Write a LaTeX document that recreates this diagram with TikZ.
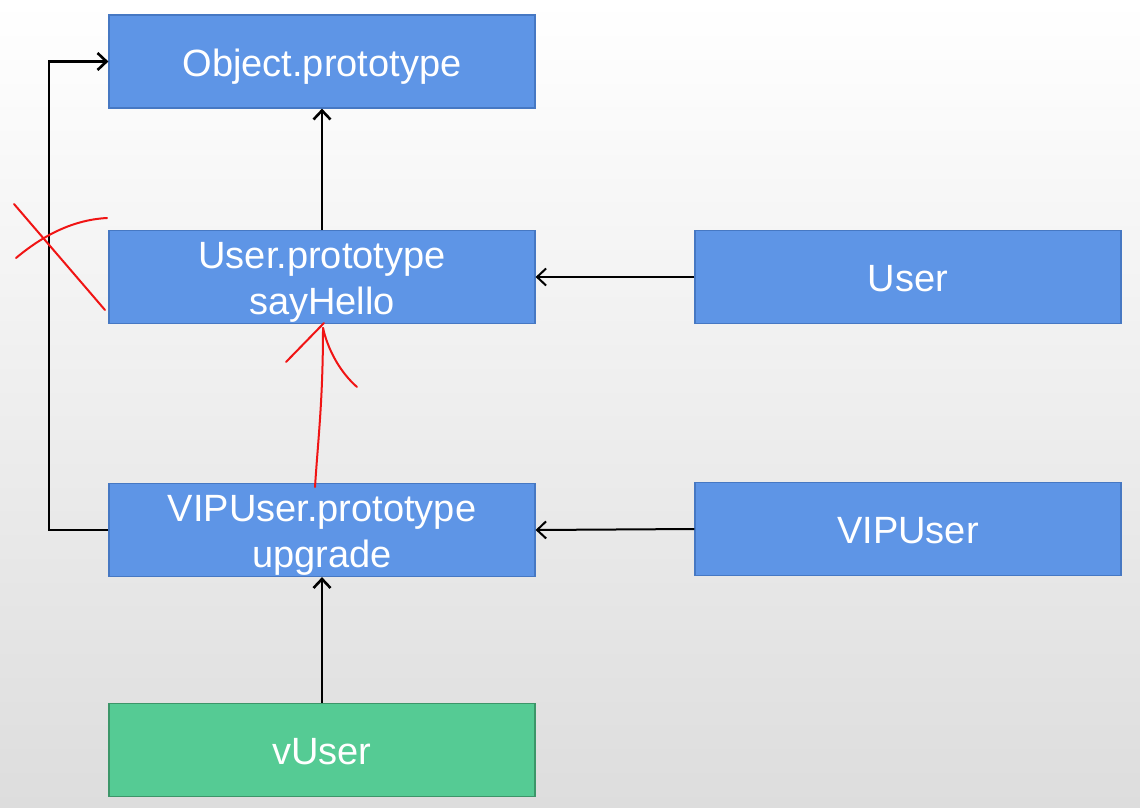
\documentclass[tikz,border=0pt]{standalone}
\usepackage{fontspec}
\setmainfont{Liberation Sans}
\usetikzlibrary{arrows.meta,positioning}
\definecolor{boxblue}{RGB}{94,149,230}
\definecolor{boxblueline}{RGB}{70,120,195}
\definecolor{boxgreen}{RGB}{85,203,148}
\definecolor{boxgreenline}{RGB}{60,150,105}
\definecolor{bgbottom}{RGB}{221,221,221}
\definecolor{inkred}{RGB}{240,20,20}
\tikzset{
  bluebox/.style={draw=boxblueline, fill=boxblue, line width=1.2pt, minimum width=426pt, minimum height=93pt, inner sep=0pt, text=white, align=center, font=\fontsize{38}{46}\selectfont},
  greenbox/.style={bluebox, draw=boxgreenline, fill=boxgreen},
  oneline/.style={text height=37pt, text depth=8pt},
  twoline/.style={text height=83pt},
  conn/.style={draw=black, line width=2.6pt, -{Straight Barb[length=9pt,width=17pt,line width=2.6pt]}},
  thinconn/.style={draw=black, line width=2pt, -{Straight Barb[length=9pt,width=17pt,line width=2pt]}},
  ink/.style={draw=inkred, line width=2pt, line cap=round, line join=round}
}
\begin{document}
\begin{tikzpicture}[x=1pt,y=-1pt]
\shade[top color=white, bottom color=bgbottom] (0,0) rectangle (1140,808);
\useasboundingbox (0,0) rectangle (1140,808);
\node[bluebox,oneline] (op) at (322,61.5) {Object.prototype};
\node[bluebox,twoline] (up) at (322,277) {User.prototype\\sayHello};
\node[bluebox,oneline] (u) at (908,277) {User};
\node[bluebox,twoline] (vp) at (322,530) {VIPUser.prototype\\upgrade};
\node[bluebox,oneline] (v) at (908,529) {VIPUser};
\node[greenbox,oneline] (vu) at (322,750) {vUser};
\coordinate (bend) at (49,530);
\draw[conn] (up.north) -- (op.south);
\draw[conn] (vu.north) -- (vp.south);
\draw[thinconn] (u.west) -- (up.east);
\draw[thinconn] (v.west) -- (vp.east);
\draw[conn] (vp.west) -- (bend) |- (op.west);
% red handwritten marks
\draw[ink] (14,204) -- (105,310);
\draw[ink] (16,258) .. controls (40,238) and (70,220) .. (107,218);
\draw[ink] (315,487) .. controls (318,440) and (323,400) .. (323,328);
\draw[ink] (286,362) -- (324,323);
\draw[ink] (323,328) .. controls (328,350) and (340,372) .. (357,387);
\end{tikzpicture}
\end{document}
